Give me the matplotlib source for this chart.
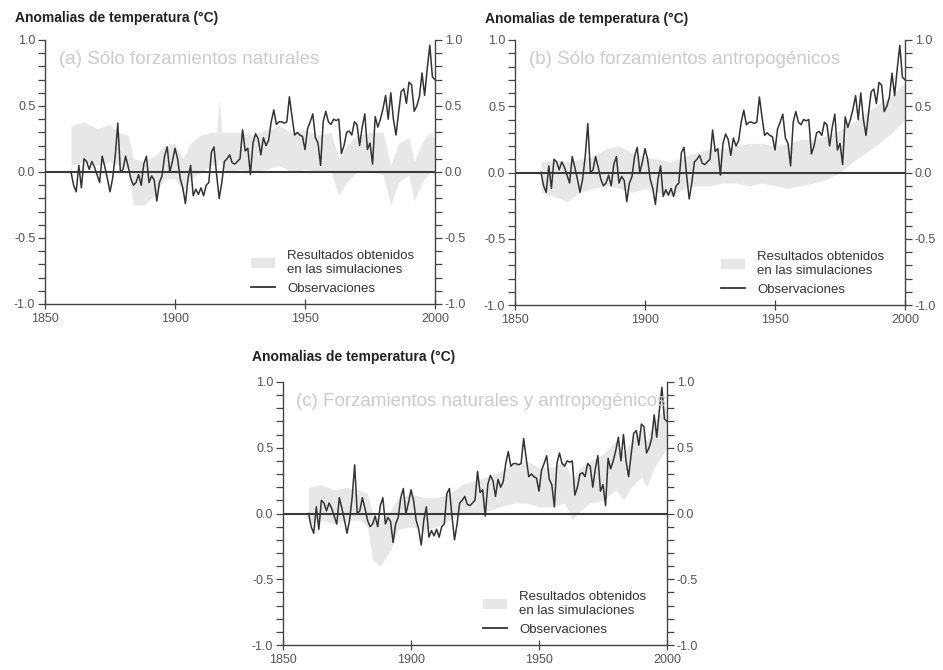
import matplotlib
matplotlib.use('Agg')
import matplotlib.pyplot as plt
import matplotlib.ticker as ticker
from matplotlib.patches import Patch
from matplotlib.lines import Line2D
import numpy as np

plt.rcParams['font.family'] = ['Liberation Sans', 'DejaVu Sans']

obs_years = list(range(1860, 2001))
obs = [
    0.00, -0.10, -0.15, 0.05, -0.12, 0.10, 0.08, 0.02, 0.08, 0.04,      # 1860s
    -0.02, -0.08, 0.12, 0.04, -0.05, -0.15, -0.05, 0.12, 0.37, 0.00,    # 1870s
    0.02, 0.12, 0.04, -0.05, -0.10, -0.08, -0.02, -0.10, 0.06, 0.12,    # 1880s
    -0.08, -0.03, -0.06, -0.22, -0.08, -0.03, 0.12, 0.19, 0.00, 0.08,   # 1890s
    0.18, 0.10, -0.05, -0.12, -0.24, -0.05, 0.05, -0.18, -0.13, -0.17,  # 1900s
    -0.12, -0.18, -0.10, -0.08, 0.15, 0.19, -0.02, -0.20, -0.08, 0.08,  # 1910s
    0.10, 0.13, 0.07, 0.06, 0.08, 0.10, 0.32, 0.16, 0.18, -0.02,        # 1920s
    0.22, 0.29, 0.25, 0.13, 0.26, 0.20, 0.24, 0.38, 0.47, 0.36,         # 1930s
    0.38, 0.38, 0.37, 0.38, 0.57, 0.42, 0.28, 0.30, 0.28, 0.27,         # 1940s
    0.17, 0.33, 0.38, 0.44, 0.26, 0.22, 0.05, 0.38, 0.46, 0.38,         # 1950s
    0.36, 0.40, 0.39, 0.40, 0.14, 0.20, 0.30, 0.31, 0.28, 0.38,         # 1960s
    0.36, 0.20, 0.34, 0.44, 0.17, 0.22, 0.06, 0.42, 0.34, 0.40,         # 1970s
    0.48, 0.58, 0.40, 0.60, 0.40, 0.28, 0.45, 0.61, 0.63, 0.52,         # 1980s
    0.68, 0.66, 0.46, 0.50, 0.57, 0.75, 0.58, 0.78, 0.96, 0.72,         # 1990s
    0.70,                                                                # 2000
]

# model ranges (grey bands)
years_a = [1860, 1865, 1870, 1875, 1878, 1882, 1884, 1888, 1892, 1896, 1900, 1903,
           1906, 1910, 1914, 1916, 1917, 1918, 1920, 1925, 1930, 1935, 1940, 1945,
           1950, 1955, 1960, 1963, 1966, 1970, 1975, 1980, 1983, 1986, 1990, 1992,
           1995, 1998, 2000]
hi_a = [0.35, 0.38, 0.33, 0.36, 0.30, 0.28, 0.10, 0.08, 0.12, 0.20, 0.22, 0.10,
        0.22, 0.28, 0.30, 0.30, 0.55, 0.30, 0.30, 0.30, 0.28, 0.32, 0.35, 0.30,
        0.32, 0.28, 0.30, 0.10, 0.20, 0.28, 0.30, 0.30, 0.05, 0.22, 0.26, 0.08,
        0.22, 0.30, 0.25]
lo_a = [0.05, 0.08, 0.05, 0.08, 0.05, 0.02, -0.25, -0.25, -0.18, -0.05, -0.05, -0.15,
        -0.05, 0.00, 0.05, 0.05, 0.10, 0.05, 0.00, 0.02, 0.00, 0.02, 0.05, 0.00,
        0.02, 0.00, 0.00, -0.18, -0.08, 0.00, 0.00, -0.02, -0.25, -0.08, -0.02, -0.22,
        -0.08, 0.00, -0.02]

years_b = [1860, 1865, 1870, 1875, 1880, 1885, 1890, 1895, 1900, 1905, 1910, 1915,
           1920, 1925, 1930, 1935, 1940, 1945, 1950, 1955, 1960, 1965, 1970, 1975,
           1980, 1985, 1990, 1995, 2000]
lo_b = [-0.15, -0.18, -0.22, -0.15, -0.12, -0.10, -0.12, -0.15, -0.12, -0.15, -0.18, -0.12,
        -0.10, -0.10, -0.08, -0.08, -0.10, -0.08, -0.10, -0.12, -0.10, -0.08, -0.05, 0.00,
        0.08, 0.15, 0.22, 0.30, 0.40]
hi_b = [0.08, 0.10, 0.08, 0.10, 0.12, 0.18, 0.20, 0.15, 0.12, 0.10, 0.08, 0.12,
        0.15, 0.18, 0.18, 0.20, 0.22, 0.22, 0.20, 0.22, 0.25, 0.25, 0.28, 0.32,
        0.38, 0.45, 0.52, 0.58, 0.68]

years_c = [1860, 1865, 1870, 1875, 1880, 1883, 1885, 1888, 1892, 1895, 1900, 1905,
           1910, 1915, 1920, 1925, 1930, 1935, 1940, 1945, 1950, 1955, 1960, 1963,
           1966, 1970, 1975, 1980, 1983, 1986, 1990, 1992, 1995, 2000]
lo_c = [-0.08, -0.05, -0.08, -0.05, -0.05, -0.10, -0.35, -0.40, -0.28, -0.12, -0.10, -0.12,
        -0.10, -0.05, 0.00, 0.00, 0.02, 0.05, 0.08, 0.08, 0.05, 0.05, 0.08, -0.05,
        0.02, 0.08, 0.10, 0.18, 0.10, 0.20, 0.28, 0.20, 0.35, 0.50]
hi_c = [0.20, 0.22, 0.18, 0.20, 0.18, 0.15, 0.00, -0.05, 0.02, 0.12, 0.15, 0.12,
        0.12, 0.15, 0.22, 0.25, 0.28, 0.32, 0.38, 0.40, 0.35, 0.35, 0.40, 0.25,
        0.35, 0.40, 0.45, 0.55, 0.45, 0.55, 0.65, 0.55, 0.70, 0.82]

header = 'Anomalias de temperatura (°C)'
subtitles = ['(a) Sólo forzamientos naturales',
             '(b) Sólo forzamientos antropogénicos',
             '(c) Forzamientos naturales y antropogénicos']
legend_labels = ['Resultados obtenidos\nen las simulaciones', 'Observaciones']

band_color = '#e7e7e7'
ink = '#333333'

W, H = 943, 670
fig = plt.figure(figsize=(W / 100, H / 100), dpi=100)


def px_axes(left, top, right, bottom):
    return fig.add_axes([left / W, 1 - bottom / H, (right - left) / W, (bottom - top) / H])


def draw_panel(ax, yrs, lo, hi, subtitle):
    ax.fill_between(yrs, lo, hi, color=band_color, lw=0, zorder=1)
    ax.axhline(0, color='#3a3a3a', lw=1.5, zorder=2)
    ax.plot(obs_years, obs, color=ink, lw=1.1, zorder=3)

    ax.set_xlim(1850, 2000)
    ax.set_ylim(-1.0, 1.0)
    ax.xaxis.set_major_locator(ticker.MultipleLocator(50))
    ax.yaxis.set_major_locator(ticker.MultipleLocator(0.5))
    ax.yaxis.set_minor_locator(ticker.MultipleLocator(0.1))
    ax.yaxis.set_major_formatter(ticker.FormatStrFormatter('%.1f'))

    for s in ['left', 'right', 'bottom']:
        ax.spines[s].set_color('#444444')
        ax.spines[s].set_linewidth(1.0)
    ax.spines['top'].set_visible(False)

    ax.tick_params(axis='y', which='both', left=True, right=True, labelright=True,
                   direction='out', length=5, width=0.9, color='#444444',
                   labelsize=9, labelcolor='#555555', pad=2)
    ax.tick_params(axis='x', which='major', direction='inout', length=7, width=0.9,
                   color='#444444', labelsize=9, labelcolor='#555555', pad=3)

    ax.text(0.035, 0.925, subtitle, transform=ax.transAxes, fontsize=13.5,
            color='#cccccc', va='center', ha='left')

    handles = [Patch(facecolor=band_color, edgecolor='none'),
               Line2D([], [], color=ink, lw=1.3)]
    ax.legend(handles, legend_labels, loc='lower right', bbox_to_anchor=(0.97, 0.0),
              frameon=False, fontsize=9.5, labelcolor='#333333', handlelength=1.8,
              handletextpad=0.9, labelspacing=0.5, borderpad=0.2)


ax_a = px_axes(45, 40, 435, 304)
draw_panel(ax_a, years_a, lo_a, hi_a, subtitles[0])
ax_b = px_axes(515, 40, 905, 305)
draw_panel(ax_b, years_b, lo_b, hi_b, subtitles[1])
ax_c = px_axes(283, 382, 667, 645)
draw_panel(ax_c, years_c, lo_c, hi_c, subtitles[2])

for x, y in [(15, 18), (485, 19), (252, 357)]:
    fig.text(x / W, 1 - y / H, header, fontsize=10, fontweight='bold',
             color='#222222', va='center', ha='left')

fig.savefig('out.png', dpi=100, facecolor='white')
